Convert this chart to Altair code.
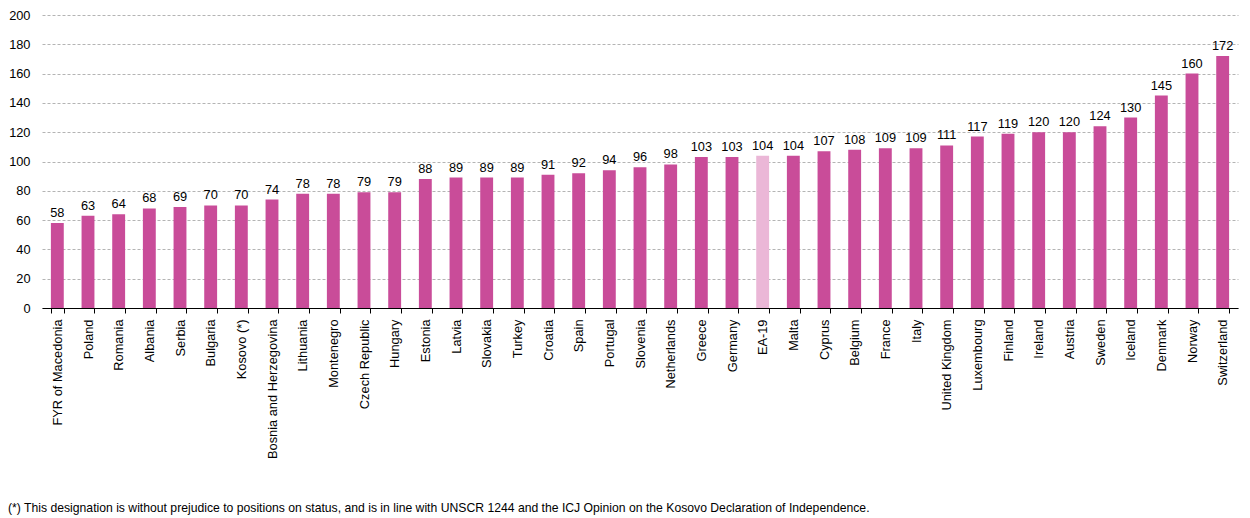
import altair as alt
import pandas as pd

countries = ["FYR of Macedonia", "Poland", "Romania", "Albania", "Serbia", "Bulgaria",
             "Kosovo (*)", "Bosnia and Herzegovina", "Lithuania", "Montenegro",
             "Czech Republic", "Hungary", "Estonia", "Latvia", "Slovakia", "Turkey",
             "Croatia", "Spain", "Portugal", "Slovenia", "Netherlands", "Greece",
             "Germany", "EA-19", "Malta", "Cyprus", "Belgium", "France", "Italy",
             "United Kingdom", "Luxembourg", "Finland", "Ireland", "Austria", "Sweden",
             "Iceland", "Denmark", "Norway", "Switzerland"]
values = [58, 63, 64, 68, 69, 70, 70, 74, 78, 78, 79, 79, 88, 89, 89, 89, 91, 92, 94,
          96, 98, 103, 103, 104, 104, 107, 108, 109, 109, 111, 117, 119, 120, 120, 124,
          130, 145, 160, 172]
groups = ["EA" if c == "EA-19" else "country" for c in countries]
y_ticks = [0, 20, 40, 60, 80, 100, 120, 140, 160, 180, 200]
footnote = ("(*) This designation is without prejudice to positions on status, and is in line "
            "with UNSCR 1244 and the ICJ Opinion on the Kosovo Declaration of Independence.")

df = pd.DataFrame({"country": countries, "value": values, "group": groups})

FONT = "Liberation Sans"

x = alt.X("country:N", sort=countries, title=None,
          scale=alt.Scale(paddingInner=0.58, paddingOuter=0.29),
          axis=alt.Axis(labelAngle=-90, labelFontSize=12.8, labelFont=FONT,
                        labelColor="#000000", labelPadding=6, domainColor="#000000",
                        tickColor="#000000", tickSize=5, tickBand="extent",
                        labelAlign="right", labelBaseline="middle", labelOverlap=False))
y = alt.Y("value:Q", title=None,
          scale=alt.Scale(domain=[0, 200], nice=False),
          axis=alt.Axis(values=y_ticks, labelFontSize=12.8, labelFont=FONT,
                        labelColor="#000000", ticks=False, domain=False, labelPadding=12,
                        labelOverlap=False,
                        gridColor="#b4b4b4", gridDash=[3, 2], gridWidth=1))

bars = alt.Chart(df).mark_bar().encode(
    x=x, y=y,
    color=alt.Color("group:N", scale=alt.Scale(domain=["country", "EA"],
                                               range=["#C94C99", "#EBB7D7"]), legend=None),
)
labels = alt.Chart(df).mark_text(dy=-10, fontSize=12.8, font=FONT, color="#000000").encode(
    x=x, y=y, text="value:Q")

note = alt.Chart(pd.DataFrame({"t": [footnote]})).mark_text(
    align="left", baseline="middle", fontSize=12.2, font=FONT, color="#000000"
).encode(x=alt.value(-34), y=alt.value(493), text="t:N")

chart = alt.layer(bars, labels, note).properties(
    width=1196, height=293,
    autosize=alt.AutoSizeParams(type="none"),
    padding={"left": 34, "top": 7, "right": 4, "bottom": 208},
).configure_view(stroke=None).configure_axisX(grid=False)

chart.save("out.html", embed_options={"renderer": "svg", "actions": False})
